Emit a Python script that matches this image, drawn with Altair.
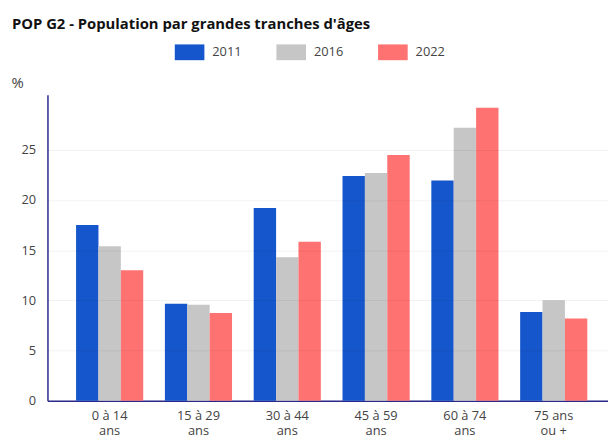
import altair as alt
import pandas as pd

categories = ["0 à 14 ans", "15 à 29 ans", "30 à 44 ans", "45 à 59 ans", "60 à 74 ans", "75 ans ou +"]
years = ["2011", "2016", "2022"]
v2011 = [17.5, 9.65, 19.2, 22.4, 21.95, 8.85]
v2016 = [15.4, 9.55, 14.3, 22.7, 27.2, 10.0]
v2022 = [13.0, 8.75, 15.85, 24.5, 29.2, 8.2]
colors = ["#1656cc", "#c6c6c6", "#ff7272"]
y_ticks = [0, 5, 10, 15, 20, 25]

rows = []
for yr, vals in zip(years, [v2011, v2016, v2022]):
    for c, v in zip(categories, vals):
        rows.append({"tranche": c, "annee": yr, "valeur": v})
df = pd.DataFrame(rows)

label_expr = (
    "indexof(datum.label, ' ou') > 0 ? "
    "[substring(datum.label, 0, indexof(datum.label, ' ou')), substring(datum.label, indexof(datum.label, ' ou') + 1)] : "
    "[substring(datum.label, 0, lastindexof(datum.label, ' ')), substring(datum.label, lastindexof(datum.label, ' ') + 1)]"
)

FONT = "Open Sans"

chart = alt.Chart(df).mark_bar().encode(
    x=alt.X("tranche:N", sort=categories,
            scale=alt.Scale(paddingInner=0.244, paddingOuter=0.322, range=[0, 576]),
            axis=alt.Axis(title=None, labelAngle=0, labelExpr=label_expr, ticks=False,
                          labelFontSize=13, labelLineHeight=15, labelPadding=9,
                          labelBaseline="top",
                          labelColor="#444444", labelFont=FONT,
                          domainColor="#2d2a8e", domainWidth=1.5, grid=False)),
    xOffset=alt.XOffset("annee:N", sort=years, scale=alt.Scale(paddingInner=0, paddingOuter=0)),
    y=alt.Y("valeur:Q", scale=alt.Scale(domain=[0, 30.5], nice=False, zero=True),
            axis=alt.Axis(title="%", titleAngle=0, titleX=-37, titleY=-12, titleAlign="left",
                          titleBaseline="middle", titleFontSize=15, titleFontWeight="normal",
                          titleColor="#444444", titleFont=FONT,
                          values=y_ticks, ticks=False, labelPadding=12, labelFontSize=13,
                          labelColor="#444444", labelFont=FONT,
                          domainColor="#2d2a8e", domainWidth=1.5,
                          grid=True, gridColor="#000000", gridOpacity=0.06, zindex=1)),
    color=alt.Color("annee:N", sort=years,
                    scale=alt.Scale(domain=years, range=colors),
                    legend=alt.Legend(title=None, orient="none", legendX=129, legendY=-58,
                                      direction="horizontal", padding=0,
                                      symbolType="M-1,-0.533L1,-0.533L1,0.533L-1,0.533Z",
                                      symbolSize=900, symbolStrokeWidth=0, symbolOpacity=1,
                                      labelOffset=8, columnPadding=35,
                                      labelFontSize=13, labelColor="#444444", labelFont=FONT)),
).properties(
    width=568,
    height=310,
    title=alt.TitleParams("POP G2 - Population par grandes tranches d'âges",
                          anchor="start", frame="group", dx=-36, offset=6,
                          font=FONT, fontSize=15, fontWeight="bold", color="#111111"),
    autosize=alt.AutoSizeParams(type="none"),
    padding={"left": 40, "top": 85, "right": 0, "bottom": 38},
).configure_view(stroke=None)

chart.save("out.html", embed_options={"renderer": "svg", "actions": False})
